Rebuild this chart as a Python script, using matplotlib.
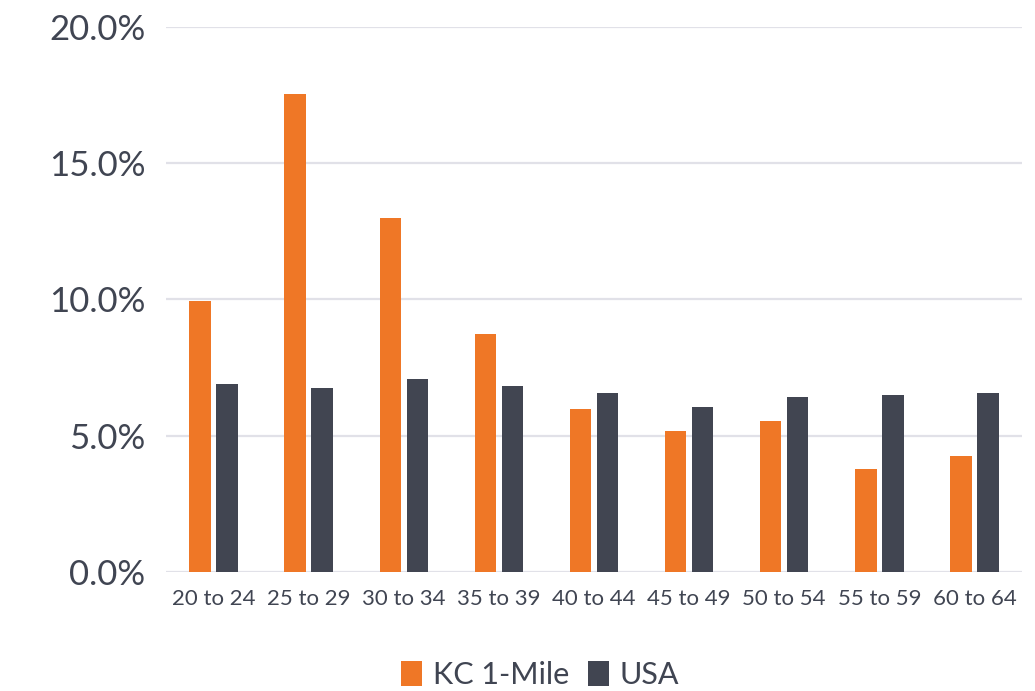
import numpy as np
import matplotlib
matplotlib.use('Agg')
import matplotlib.pyplot as plt
from matplotlib.ticker import FuncFormatter

# age bands and share of population (%)
age_groups = ['20 to 24', '25 to 29', '30 to 34', '35 to 39', '40 to 44',
              '45 to 49', '50 to 54', '55 to 59', '60 to 64']
kc_1mile = [9.93, 17.53, 12.98, 8.75, 5.97, 5.16, 5.53, 3.78, 4.24]
usa = [6.90, 6.76, 7.10, 6.81, 6.57, 6.04, 6.42, 6.49, 6.58]

ORANGE = '#EF7726'
DARK = '#414551'
TEXT = '#404552'

plt.rcParams['font.family'] = ['Lato', 'DejaVu Sans']

fig = plt.figure(figsize=(10.35, 6.91), dpi=100)
ax = fig.add_axes([0.1604, 0.1722, 0.827, 0.7888])

x = np.arange(len(age_groups))
w = 0.226
ax.bar(x - 0.142, kc_1mile, w, color=ORANGE, label='KC 1-Mile', zorder=3)
ax.bar(x + 0.142, usa, w, color=DARK, label='USA', zorder=3)

ax.set_xlim(-0.5, len(age_groups) - 0.5)
ax.set_ylim(0, 20)
ax.set_yticks([0, 5, 10, 15, 20])
ax.yaxis.set_major_formatter(FuncFormatter(lambda v, p: f'{v:.1f}%'))
ax.grid(axis='y', color='#E1E1E8', linewidth=1.6, zorder=0)
ax.set_xticks(x)
ax.set_xticklabels(age_groups)

for s in ax.spines.values():
    s.set_visible(False)
ax.tick_params(axis='both', length=0)
ax.tick_params(axis='y', labelsize=25, labelcolor=TEXT, pad=15)
ax.tick_params(axis='x', labelsize=16, labelcolor=TEXT, pad=12)

leg = fig.legend(loc='center', bbox_to_anchor=(540 / 1035, 1 - 675 / 691),
                 ncol=2, frameon=False, fontsize=22, handlelength=0.7,
                 handleheight=0.9, handletextpad=0.35, columnspacing=0.6)
for t in leg.get_texts():
    t.set_color(TEXT)

fig.savefig('out.png', dpi=100)
